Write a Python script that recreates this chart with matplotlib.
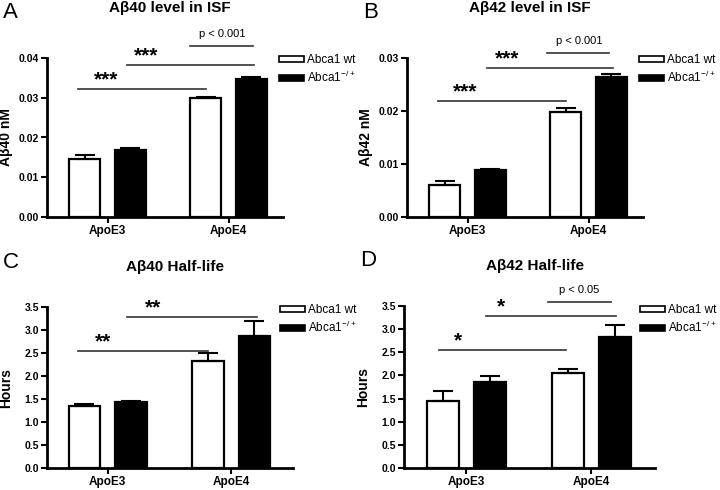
import matplotlib
matplotlib.use("Agg")
import matplotlib.pyplot as plt
from matplotlib.patches import Patch

plt.rcParams['font.family'] = ['Liberation Sans', 'DejaVu Sans']
plt.rcParams['mathtext.fontset'] = 'custom'
plt.rcParams['mathtext.rm'] = 'Liberation Sans'
plt.rcParams['mathtext.default'] = 'regular'

groups = ['ApoE3', 'ApoE4']
series_labels = ['Abca1 wt', 'Abca1$^{-/+}$']

a40_wt = [0.0146, 0.0300]
a40_wt_err = [0.0010, 0.0003]
a40_ko = [0.0169, 0.0347]
a40_ko_err = [0.0004, 0.0006]

a42_wt = [0.0061, 0.0198]
a42_wt_err = [0.0007, 0.0008]
a42_ko = [0.0089, 0.0264]
a42_ko_err = [0.0002, 0.0005]

h40_wt = [1.35, 2.33]
h40_wt_err = [0.04, 0.17]
h40_ko = [1.43, 2.87]
h40_ko_err = [0.02, 0.33]

h42_wt = [1.45, 2.05]
h42_wt_err = [0.22, 0.09]
h42_ko = [1.86, 2.83]
h42_ko_err = [0.13, 0.25]

W, H = 720, 490
fig = plt.figure(figsize=(7.2, 4.9), dpi=100)


def add_ax(l, r, t, b):
    return fig.add_axes([l / W, 1 - b / H, (r - l) / W, (b - t) / H])


panels = [
    dict(box=(47, 283, 58, 217), letter='A', title='A\u03b240 level in ISF', ylabel='A\u03b240 nM',
         wt=a40_wt, wte=a40_wt_err, ko=a40_ko, koe=a40_ko_err,
         yticks=[0.00, 0.01, 0.02, 0.03, 0.04], fmt='{:.2f}', xlim=(-0.5, 1.45),
         brackets=[(-0.24, 0.81, 0.0322, '***', -0.01), (0.16, 1.21, 0.0382, '***', 0.32),
                   (0.68, 1.2, 0.0430, 'p < 0.001', 0.95)],
         leg=(277, 52), tdy=50),
    dict(box=(407, 643, 58, 217), letter='B', title='A\u03b242 level in ISF', ylabel='A\u03b242 nM',
         wt=a42_wt, wte=a42_wt_err, ko=a42_ko, koe=a42_ko_err,
         yticks=[0.00, 0.01, 0.02, 0.03], fmt='{:.2f}', xlim=(-0.5, 1.45),
         brackets=[(-0.24, 0.81, 0.0219, '***', -0.02), (0.16, 1.2, 0.0281, '***', 0.33),
                   (0.66, 1.17, 0.0309, 'p < 0.001', 0.92)],
         leg=(637, 52), tdy=50),
    dict(box=(47, 293, 307, 468), letter='C', title='A\u03b240 Half-life', ylabel='Hours',
         wt=h40_wt, wte=h40_wt_err, ko=h40_ko, koe=h40_ko_err,
         yticks=[0.0, 0.5, 1.0, 1.5, 2.0, 2.5, 3.0, 3.5], fmt='{:.1f}', xlim=(-0.49, 1.5),
         brackets=[(-0.24, 0.81, 2.54, '**', -0.04), (0.16, 1.21, 3.28, '**', 0.37)],
         leg=(278, 302), tdy=40),
    dict(box=(404, 655, 306, 468), letter='D', title='A\u03b242 Half-life', ylabel='Hours',
         wt=h42_wt, wte=h42_wt_err, ko=h42_ko, koe=h42_ko_err,
         yticks=[0.0, 0.5, 1.0, 1.5, 2.0, 2.5, 3.0, 3.5], fmt='{:.1f}', xlim=(-0.5, 1.51),
         brackets=[(-0.22, 0.80, 2.55, '*', -0.07), (0.16, 1.20, 3.28, '*', 0.28),
                   (0.65, 1.16, 3.59, 'p < 0.05', 0.905)],
         leg=(638, 302), tdy=40),
]

bw = 0.256
off = 0.188
x = [0, 1]

for p in panels:
    l, r, t, b = p['box']
    ax = add_ax(l, r, t, b)
    xw = [xi - off for xi in x]
    xk = [xi + off for xi in x]
    ax.bar(xw, p['wt'], width=bw, color='white', edgecolor='black', linewidth=1.6, zorder=2)
    ax.bar(xk, p['ko'], width=bw, color='black', edgecolor='black', linewidth=1.6, zorder=2)
    ax.errorbar(xw, p['wt'], yerr=[[0, 0], p['wte']], fmt='none', ecolor='black',
                elinewidth=1.5, capsize=7, capthick=1.5, zorder=3)
    ax.errorbar(xk, p['ko'], yerr=[[0, 0], p['koe']], fmt='none', ecolor='black',
                elinewidth=1.5, capsize=7, capthick=1.5, zorder=1)
    ax.set_xlim(*p['xlim'])
    ax.set_ylim(p['yticks'][0], p['yticks'][-1])
    ax.set_yticks(p['yticks'])
    ax.set_yticklabels([p['fmt'].format(v) for v in p['yticks']], fontsize=7.5, fontweight='bold')
    ax.set_xticks(x)
    ax.set_xticklabels(groups, fontsize=8.5, fontweight='bold')
    for s in ['top', 'right']:
        ax.spines[s].set_visible(False)
    for s in ['left', 'bottom']:
        ax.spines[s].set_linewidth(2.0)
    ax.tick_params(axis='both', direction='out', length=4, width=1.5, pad=1.5)
    ax.set_ylabel(p['ylabel'], fontsize=10, fontweight='bold')
    ax.yaxis.set_label_coords(-34 / (r - l), 0.5)
    for (x0, x1, yv, lab, xt) in p['brackets']:
        ax.plot([x0, x1], [yv, yv], color='#333333', linewidth=1.2, clip_on=False)
        if lab.startswith('p'):
            ax.annotate(lab, xy=(xt, yv), xytext=(0, 5), textcoords='offset points',
                        ha='center', va='bottom', fontsize=8, annotation_clip=False)
        else:
            ax.annotate(lab, xy=(xt, yv), xytext=(0, 0), textcoords='offset points',
                        ha='center', va='bottom', fontsize=15, fontweight='bold', annotation_clip=False)
    fig.text(((l + r) / 2 + 5) / W, 1 - (t - p['tdy']) / H, p['title'],
             ha='center', va='center', fontsize=11, fontweight='bold')
    fig.text((l - 44) / W, 1 - (t - 45) / H, p['letter'], ha='left', va='center', fontsize=16)
    lx, ly = p['leg']
    handles = [Patch(facecolor='white', edgecolor='black', linewidth=1.2),
               Patch(facecolor='black', edgecolor='black', linewidth=1.2)]
    fig.legend(handles, series_labels, loc='upper left', bbox_to_anchor=(lx / W, 1 - ly / H),
               frameon=False, fontsize=8.5, handlelength=2.1, handleheight=0.45,
               handletextpad=0.25, labelspacing=0.3, borderpad=0.2, borderaxespad=0)

fig.savefig('out.png', dpi=100)
